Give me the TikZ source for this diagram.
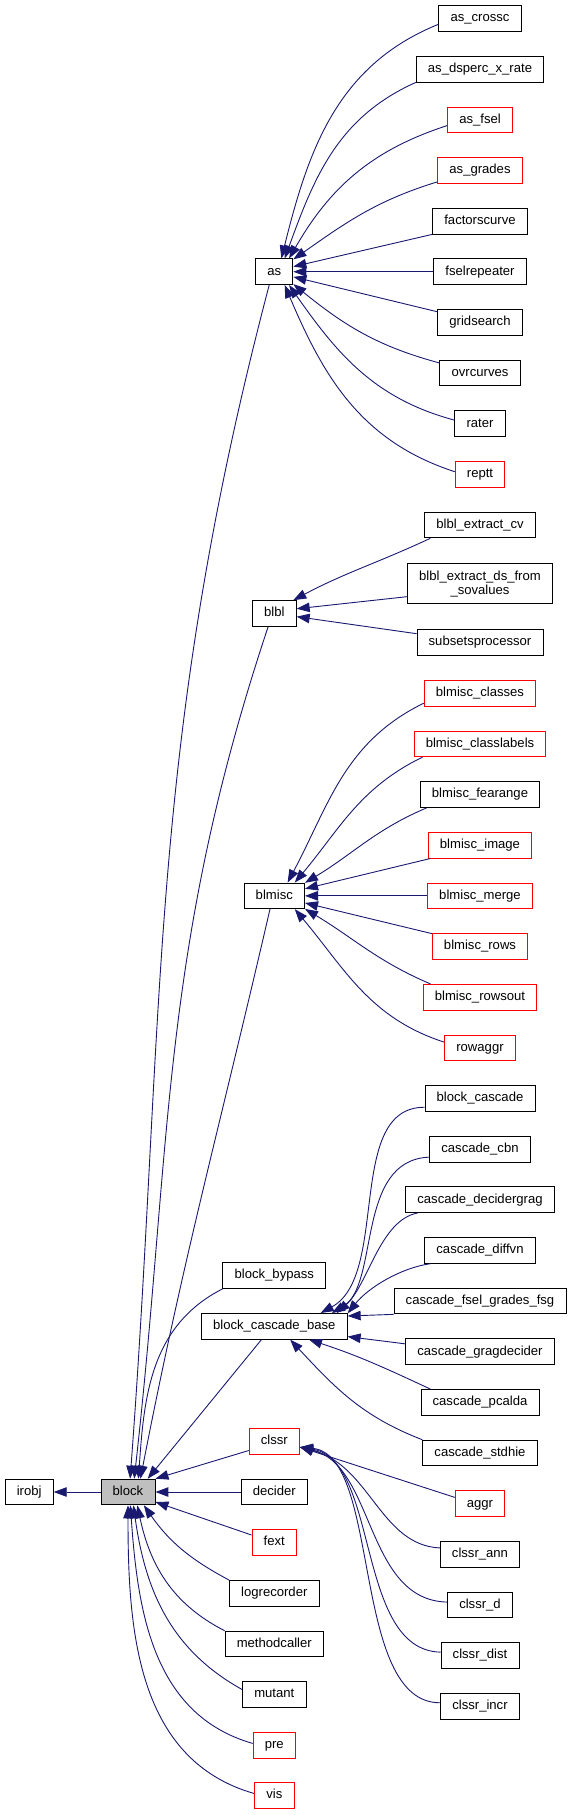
\documentclass[tikz,border=0pt]{standalone}
\usepackage{fontspec}
\setmainfont{Liberation Sans}
\usepackage{xcolor}
\usepackage{tikz}
\usetikzlibrary{arrows.meta}

\definecolor{edgeblue}{HTML}{191970}
\definecolor{boxgrey}{HTML}{BFBFBF}

\tikzset{
  cls/.style={draw=black, line width=0.9pt, minimum height=25.7pt, inner xsep=11.7pt, inner ysep=0pt,
    text height=9.5pt, text depth=2.8pt, font=\fontsize{13.1}{14.5}\selectfont},
  redcls/.style={cls, draw=red},
  edge/.style={edgeblue, line width=0.9pt, -{Triangle[length=13pt,width=9.5pt]}},
}

\begin{document}
\begin{tikzpicture}[x=1pt,y=1pt]
    \useasboundingbox (0,0) rectangle (571,-1815);

    % Left part
    \node[cls] (irobj) at (29.2,-1492) {irobj};
    \node[cls, fill=boxgrey] (block) at (128,-1492) {block};

    % Middle column
    \node[cls] (as) at (274.3,-271.75) {as};
    \node[cls] (blbl) at (274.3,-613.5) {blbl};
    \node[cls] (blmisc) at (274.3,-895.85) {blmisc};
    \node[cls] (bypass) at (274.3,-1275.6) {block\_bypass};
    \node[cls] (bcb) at (274.3,-1326.3) {block\_cascade\_base};
    \node[redcls] (clssr) at (274.3,-1441.2) {clssr};
    \node[cls] (decider) at (274.3,-1492) {decider};
    \node[redcls] (fext) at (274.3,-1542.4) {fext};
    \node[cls] (logrecorder) at (274.3,-1593.3) {logrecorder};
    \node[cls] (methodcaller) at (274.3,-1644) {methodcaller};
    \node[cls] (mutant) at (274.3,-1694.6) {mutant};
    \node[redcls] (pre) at (274.3,-1745.3) {pre};
    \node[redcls] (vis) at (274.3,-1795.6) {vis};

    % Right column: as
    \node[cls] (ascrossc) at (480,-18.5) {as\_crossc};
    \node[cls] (asdsperc) at (480,-69.15) {as\_dsperc\_x\_rate};
    \node[redcls] (asfsel) at (480,-119.8) {as\_fsel};
    \node[redcls] (asgrades) at (480,-170.45) {as\_grades};
    \node[cls] (factorscurve) at (480,-221.1) {factorscurve};
    \node[cls] (fselrepeater) at (480,-271.75) {fselrepeater};
    \node[cls] (gridsearch) at (480,-322.4) {gridsearch};
    \node[cls] (ovrcurves) at (480,-373.05) {ovrcurves};
    \node[cls] (rater) at (480,-423.7) {rater};
    \node[redcls] (reptt) at (480,-474.35) {reptt};

    % Right column: blbl
    \node[cls] (extractcv) at (480,-525) {blbl\_extract\_cv};
    \node[cls, text height=, text depth=, minimum height=40pt, align=center] (extractds) at (480,-583.8) {blbl\_extract\_ds\_from\\\_sovalues};
    \node[cls] (subsets) at (480,-642.6) {subsetsprocessor};

    % Right column: blmisc
    \node[redcls] (classes) at (480,-693.25) {blmisc\_classes};
    \node[redcls] (classlabels) at (480,-743.9) {blmisc\_classlabels};
    \node[cls] (fearange) at (480,-794.55) {blmisc\_fearange};
    \node[redcls] (image) at (480,-845.2) {blmisc\_image};
    \node[redcls] (merge) at (480,-895.85) {blmisc\_merge};
    \node[redcls] (rows) at (480,-946.5) {blmisc\_rows};
    \node[redcls] (rowsout) at (480,-997.15) {blmisc\_rowsout};
    \node[redcls] (rowaggr) at (480,-1047.8) {rowaggr};

    % Right column: block_cascade_base
    \node[cls] (blockcascade) at (480,-1098.45) {block\_cascade};
    \node[cls] (cbn) at (480,-1149.1) {cascade\_cbn};
    \node[cls] (decidergrag) at (480,-1199.75) {cascade\_decidergrag};
    \node[cls] (diffvn) at (480,-1250.4) {cascade\_diffvn};
    \node[cls] (fselgrades) at (480,-1301.05) {cascade\_fsel\_grades\_fsg};
    \node[cls] (gragdecider) at (480,-1351.7) {cascade\_gragdecider};
    \node[cls] (pcalda) at (480,-1402.35) {cascade\_pcalda};
    \node[cls] (stdhie) at (480,-1453) {cascade\_stdhie};

    % Right column: clssr
    \node[redcls] (aggr) at (480,-1503.65) {aggr};
    \node[cls] (clssrann) at (480,-1554.3) {clssr\_ann};
    \node[cls] (clssrd) at (480,-1604.95) {clssr\_d};
    \node[cls] (clssrdist) at (480,-1655.6) {clssr\_dist};
    \node[cls] (clssrincr) at (480,-1706.25) {clssr\_incr};

    % Edges into as
    \draw[edge] (ascrossc.188) to[out=202,in=76] (as.62);
    \draw[edge] (asdsperc.south west) to[out=204,in=70] (as.52);
    \draw[edge] (asfsel.190) to[out=198,in=60] (as.42);
    \draw[edge] (asgrades.195) to[out=197,in=35] (as.33);
    \draw[edge] (factorscurve.south west) -- (as.15);
    \draw[edge] (fselrepeater.west) -- (as.east);
    \draw[edge] (gridsearch.166) -- (as.345);
    \draw[edge] (ovrcurves.166) to[out=165,in=321] (as.327);
    \draw[edge] (rater.172) to[out=165,in=305] (as.318);
    \draw[edge] (reptt.174) to[out=162,in=293] (as.308);

    % Edges into blbl
    \draw[edge] (extractcv.195) to[out=205,in=28] (blbl.35);
    \draw[edge] (extractds.190) -- (blbl.12);
    \draw[edge] (subsets.172) -- (blbl.352);

    % Edges into blmisc
    \draw[edge] (classes.190) to[out=206,in=62] (blmisc.45);
    \draw[edge] (classlabels.193) to[out=206,in=50] (blmisc.33);
    \draw[edge] (fearange.194) to[out=203,in=31] (blmisc.23);
    \draw[edge] (image.195) -- (blmisc.13);
    \draw[edge] (merge.west) -- (blmisc.east);
    \draw[edge] (rows.165) -- (blmisc.347);
    \draw[edge] (rowsout.165) to[out=157,in=329] (blmisc.337);
    \draw[edge] (rowaggr.171) to[out=162,in=310] (blmisc.327);

    % Edges into block_cascade_base
    \draw[edge] (blockcascade.189) .. controls (345,-1107) and (390,-1275) .. (bcb.16);
    \draw[edge] (cbn.189) .. controls (355,-1160) and (380,-1285) .. (bcb.13);
    \draw[edge] (decidergrag.192) .. controls (380,-1220) and (368,-1285) .. (bcb.12);
    \draw[edge] (diffvn.195) .. controls (400,-1268) and (368,-1288) .. (bcb.10);
    \draw[edge] (fselgrades.south west) -- (bcb.8);
    \draw[edge] (gragdecider.174) -- (bcb.352);
    \draw[edge] (pcalda.165) to[out=155,in=342] (bcb.339);
    \draw[edge] (stdhie.north west) to[out=159,in=313] (bcb.320);

    % Edges into clssr
    \draw[edge] (aggr.166) -- (clssr.347);
    \draw[edge] (clssrann.171) .. controls (380,-1545) and (370,-1465) .. (clssr.347);
    \draw[edge] (clssrd.175) .. controls (365,-1600) and (375,-1465) .. (clssr.347);
    \draw[edge] (clssrdist.175) .. controls (355,-1650) and (380,-1460) .. (clssr.347);
    \draw[edge] (clssrincr.175) .. controls (350,-1703) and (382,-1455) .. (clssr.347);

    % Edges into block
    \draw[edge] (as.249) .. controls (147.5,-748) and (165.5,-1006) .. (block.81);
    \draw[edge] (blbl.245) .. controls (160,-951.5) and (172,-1141.7) .. (block.65);
    \draw[edge] (blmisc.252) to[out=257,in=79] (block.47);
    \draw[edge] (bypass.south west) to[out=207,in=86] (block.52);
    \draw[edge] (bcb.226) -- (block.34);
    \draw[edge] (clssr.200) -- (block.north east);
    \draw[edge] (decider.west) -- (block.east);
    \draw[edge] (fext.162) -- (block.340);
    \draw[edge] (logrecorder.north west) to[out=152,in=305] (block.320);
    \draw[edge] (methodcaller.north west) to[out=153,in=282] (block.305);
    \draw[edge] (mutant.171) to[out=151,in=278] (block.292);
    \draw[edge] (pre.175) to[out=164,in=274] (block.280);
    \draw[edge] (vis.174) to[out=164,in=270] (block.south);

    % Edge into irobj
    \draw[edge] (block.west) -- (irobj.east);
\end{tikzpicture}
\end{document}
